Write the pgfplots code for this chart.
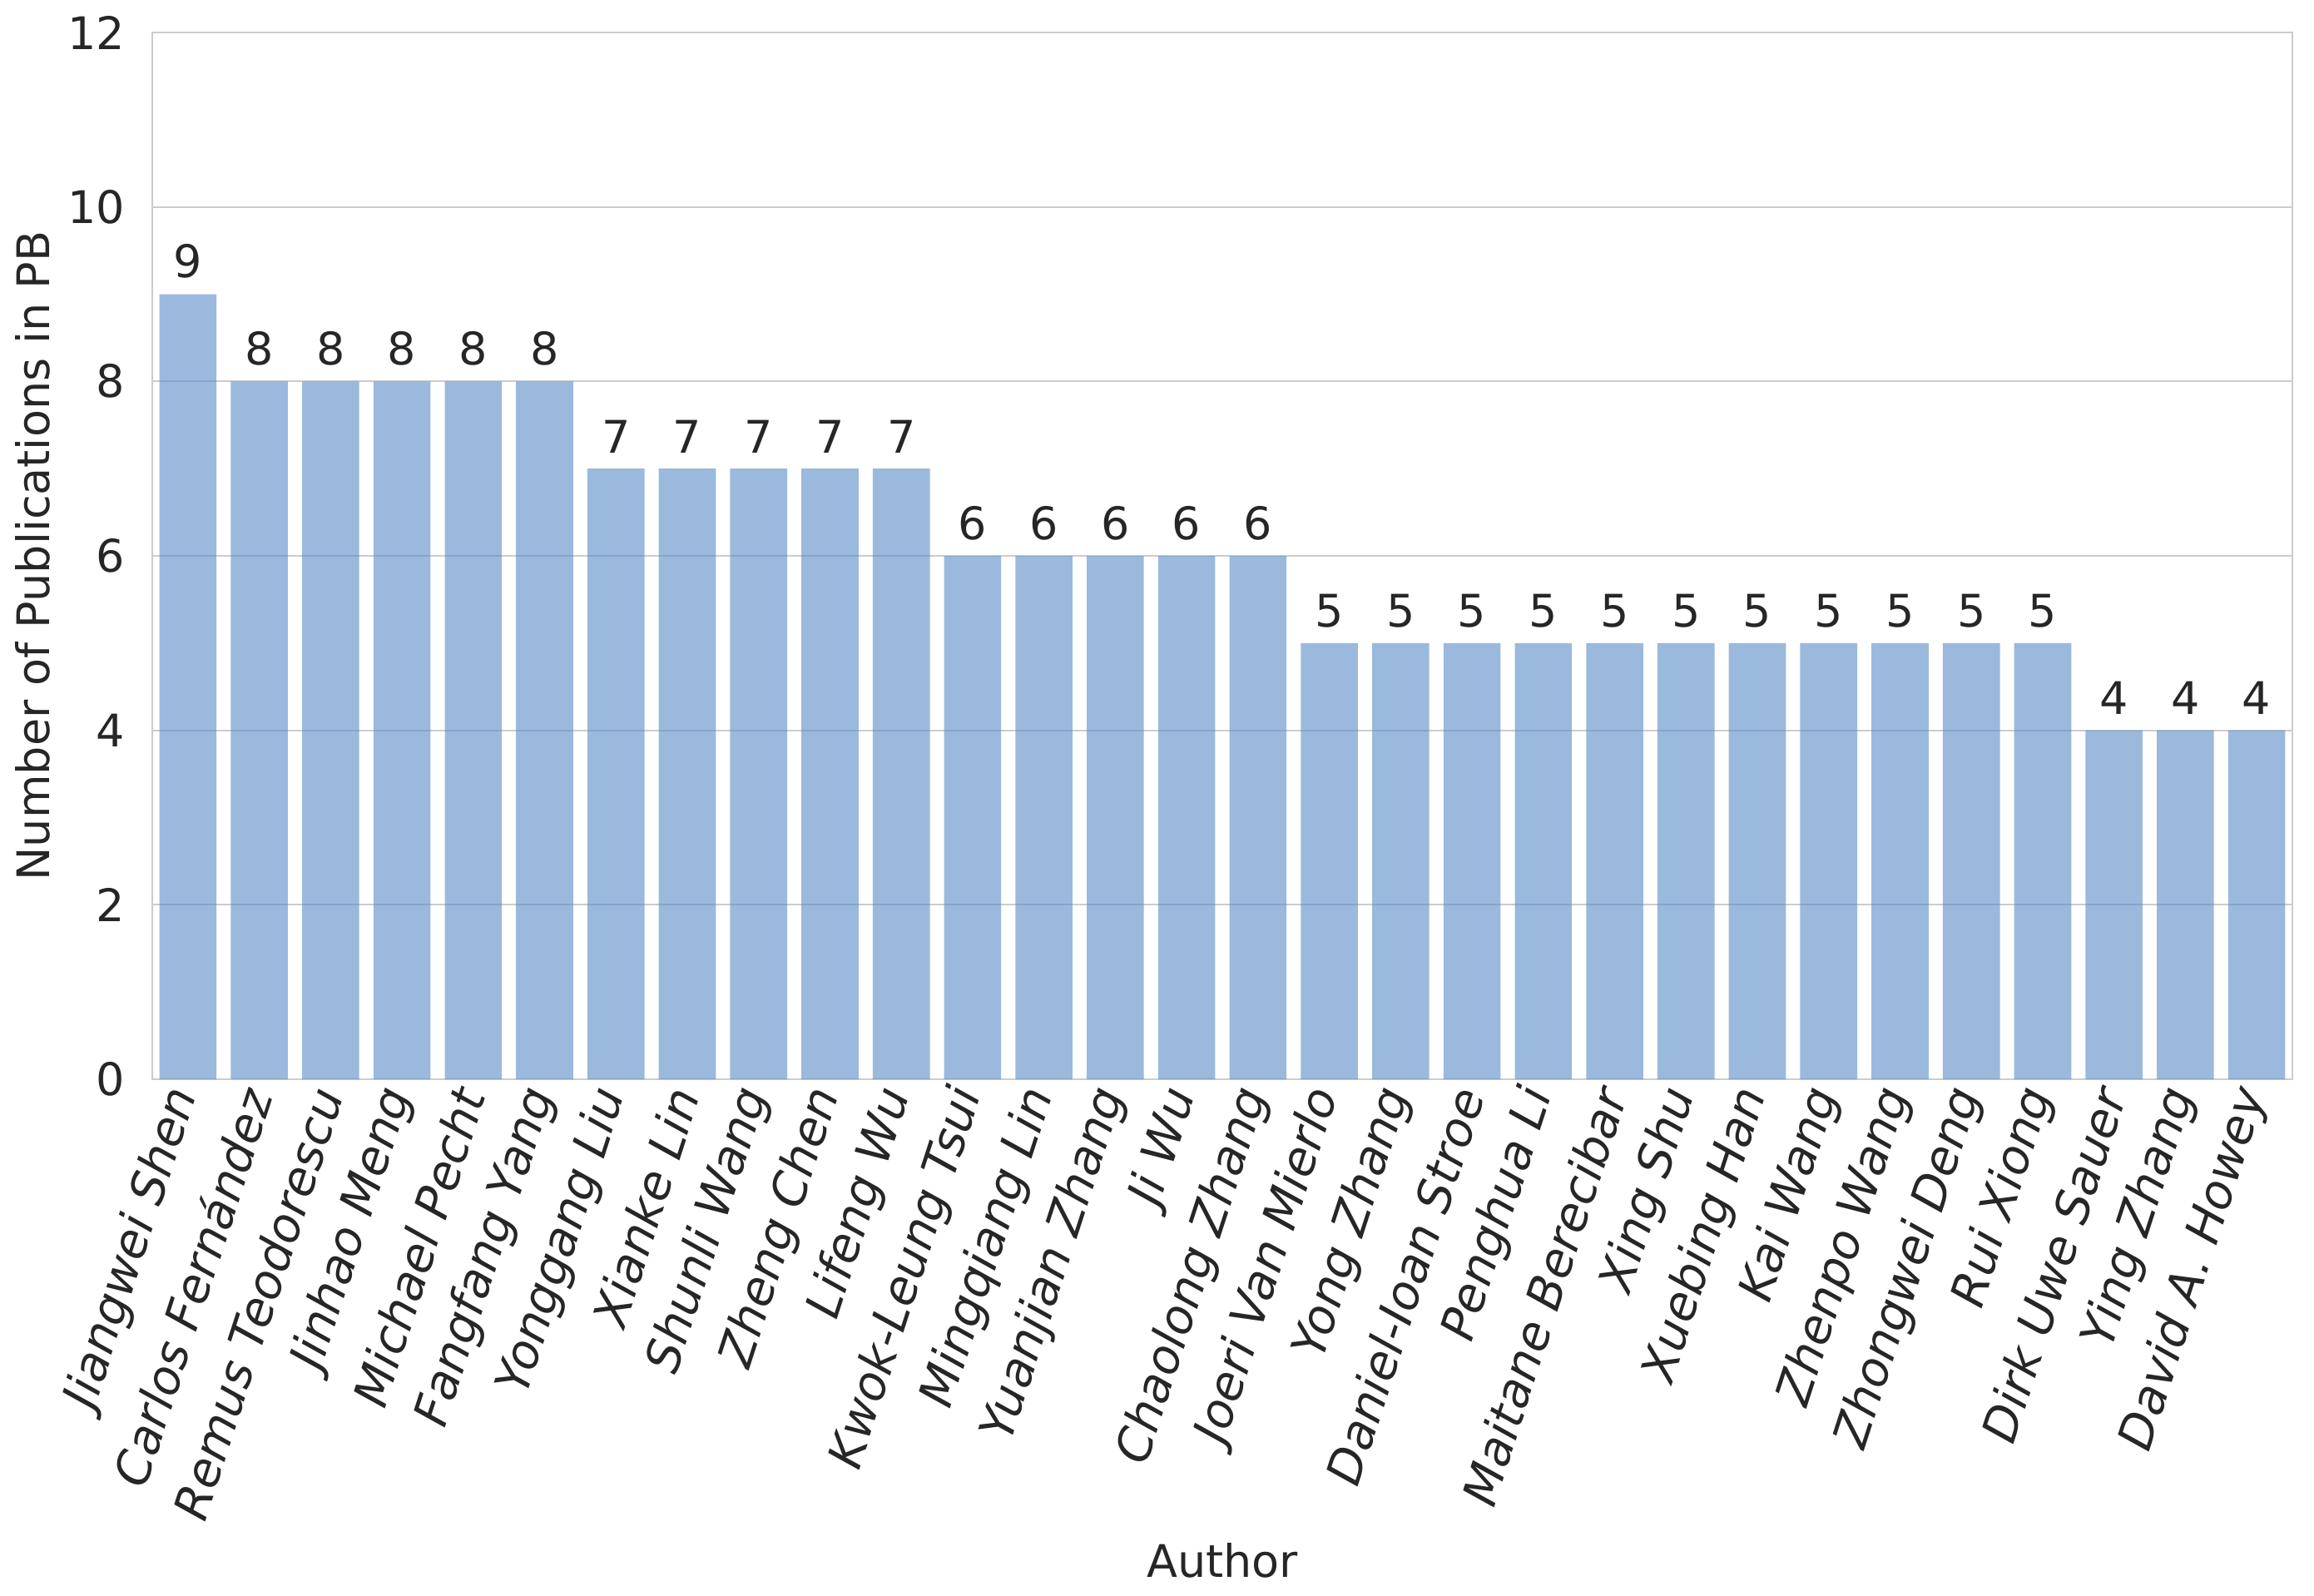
\documentclass[border=0pt]{standalone}
\usepackage{fontspec}
\setmainfont{DejaVu Sans}
\usepackage{pgfplots}
\pgfplotsset{compat=1.18}
\definecolor{barC}{rgb}{0.34,0.54,0.78}
\definecolor{gridC}{gray}{0.8}
\definecolor{txtC}{HTML}{262626}
\newcommand{\fs}{\fontsize{13.5}{16}\selectfont}
\newcommand{\fx}{\fontsize{14.3}{17}\selectfont}
\begin{document}
\begin{tikzpicture}
\useasboundingbox (-45.75pt,-155pt) rectangle (649.5pt,324.25pt);
\begin{axis}[
  scale only axis, width=643pt, height=314.5pt,
  xmin=-0.5, xmax=29.5, ymin=0, ymax=12,
  ytick={0,2,...,12},
  xtick={0,...,29},
  xticklabels={Jiangwei Shen, Carlos Fernández, Remus Teodorescu, Jinhao Meng,
    Michael Pecht, Fangfang Yang, Yonggang Liu, Xianke Lin, Shunli Wang,
    Zheng Chen, Lifeng Wu, Kwok-Leung Tsui, Mingqiang Lin, Yuanjian Zhang,
    Ji Wu, Chaolong Zhang, Joeri Van Mierlo, Yong Zhang, Daniel-Ioan Stroe,
    Penghua Li, Maitane Berecibar, Xing Shu, Xuebing Han, Kai Wang,
    Zhenpo Wang, Zhongwei Deng, Rui Xiong, Dirk Uwe Sauer, Ying Zhang,
    David A. Howey},
  /pgf/number format/assume math mode=true,
  ymajorgrids, grid style={draw=gridC, line width=0.5pt},
  axis line style={draw=gridC, line width=0.7pt},
  major tick length=0pt, tick style={draw=none},
  yticklabel style={font=\fs, text=txtC, anchor=east, inner sep=0pt, xshift=-8pt},
  xticklabel style={font=\itshape\fx, text=txtC, xshift=-1pt, yshift=-3pt, rotate=72, anchor=east, inner sep=0pt},
  ylabel={Number of Publications in PB},
  xlabel={Author},
  every axis y label/.style={at={(axis description cs:-0.056,0.5)}, rotate=90, anchor=center, font=\fs, text=txtC},
  every axis x label/.style={at={(axis description cs:0.5,-0.46)}, anchor=center, font=\fs, text=txtC},
]
\addplot[ybar, bar width=0.8, fill=barC, fill opacity=0.6, draw=none,
  nodes near coords,
  nodes near coords style={font=\fs, text=txtC, text opacity=1, anchor=south, inner sep=0pt, yshift=4.5pt}]
  coordinates {(0,9)(1,8)(2,8)(3,8)(4,8)(5,8)(6,7)(7,7)(8,7)(9,7)(10,7)
  (11,6)(12,6)(13,6)(14,6)(15,6)(16,5)(17,5)(18,5)(19,5)(20,5)(21,5)(22,5)
  (23,5)(24,5)(25,5)(26,5)(27,4)(28,4)(29,4)};
\end{axis}
\end{tikzpicture}
\end{document}
